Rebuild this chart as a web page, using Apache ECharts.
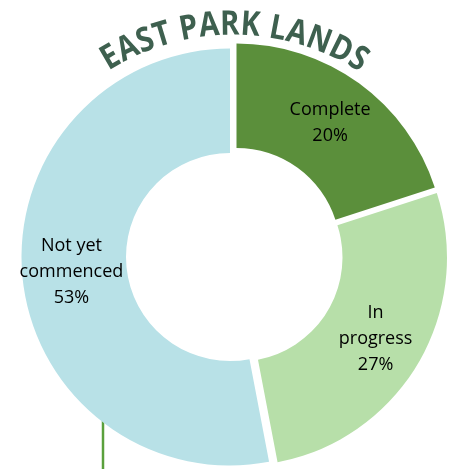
<!DOCTYPE html>
<html>
<head>
<meta charset="utf-8">
<script src="https://cdn.jsdelivr.net/npm/echarts@6/dist/echarts.min.js"></script>
<style>
html,body{margin:0;padding:0;background:#fff;}
#main{width:449px;height:469px;}
</style>
</head>
<body>
<div id="main"></div>
<script>
// ---- data ----
const categories = ['Complete', 'In progress', 'Not yet commenced'];
const labelNames = ['Complete', 'In\nprogress', 'Not yet\ncommenced'];
const values = [20, 27, 53];
const titleText = 'EAST PARK LANDS';

// ---- styling ----
const colors = ['#5B8F3B', '#B7DFA9', '#B8E1E7'];
const sliceCenters = [[236.5, 252], [238.5, 257.5], [230, 257]];
const radius = [104, 208.5];
const labelFont = '"Open Sans", sans-serif';

const chart = echarts.init(document.getElementById('main'), null, {renderer: 'canvas'});

const series = categories.map((cat, k) => ({
  type: 'pie',
  silent: true,
  animation: false,
  center: sliceCenters[k],
  radius: radius,
  startAngle: 90,
  clockwise: true,
  avoidLabelOverlap: false,
  labelLine: {show: false},
  data: categories.map((c, i) => ({
    name: c,
    value: values[i],
    itemStyle: {color: i === k ? colors[i] : 'rgba(0,0,0,0)'},
    label: {
      show: i === k,
      position: 'inside',
      formatter: labelNames[i] + '\n' + values[i] + '%',
      color: '#000',
      fontFamily: labelFont,
      fontSize: 18,
      lineHeight: 26,
      align: 'center'
    }
  }))
}));

// curved title letters
function titleGraphics() {
  const fontSize = 34;
  const sx = 0.86;
  const font = 'bold ' + fontSize + 'px "Open Sans"';
  const ctx = document.createElement('canvas').getContext('2d');
  ctx.font = font;
  const chars = Array.from(titleText);
  const w = chars.map(c => ctx.measureText(c).width * sx);
  const arcC = [233, 268], R = 243;
  const firstAng = -30.2, lastAng = 31.0;
  const targetLen = (lastAng - firstAng) * Math.PI / 180 * R;
  let natural = 0;
  for (let i = 0; i < chars.length - 1; i++) natural += (w[i] + w[i + 1]) / 2;
  const track = (targetLen - natural) / (chars.length - 1);
  const out = [];
  let s = 0;
  for (let i = 0; i < chars.length; i++) {
    if (i > 0) s += (w[i - 1] + w[i]) / 2 + track;
    if (chars[i] === ' ') continue;
    const ang = (firstAng * Math.PI / 180) + s / R;
    out.push({
      type: 'text',
      x: arcC[0] + R * Math.sin(ang),
      y: arcC[1] - R * Math.cos(ang),
      rotation: -ang,
      scaleX: sx,
      z: 10,
      style: {
        text: chars[i],
        font: font,
        fill: '#3E604F',
        align: 'center',
        verticalAlign: 'middle',
        textAlign: 'center',
        textVerticalAlign: 'middle'
      }
    });
  }
  return out;
}

const graphics = [{
  type: 'line',
  z: -1,
  shape: {x1: 103, y1: 410, x2: 103, y2: 469},
  style: {stroke: '#5AA03C', lineWidth: 2.5}
}].concat(titleGraphics());

chart.setOption({
  backgroundColor: '#ffffff',
  animation: false,
  series: series,
  graphic: graphics
});
</script>
</body>
</html>
